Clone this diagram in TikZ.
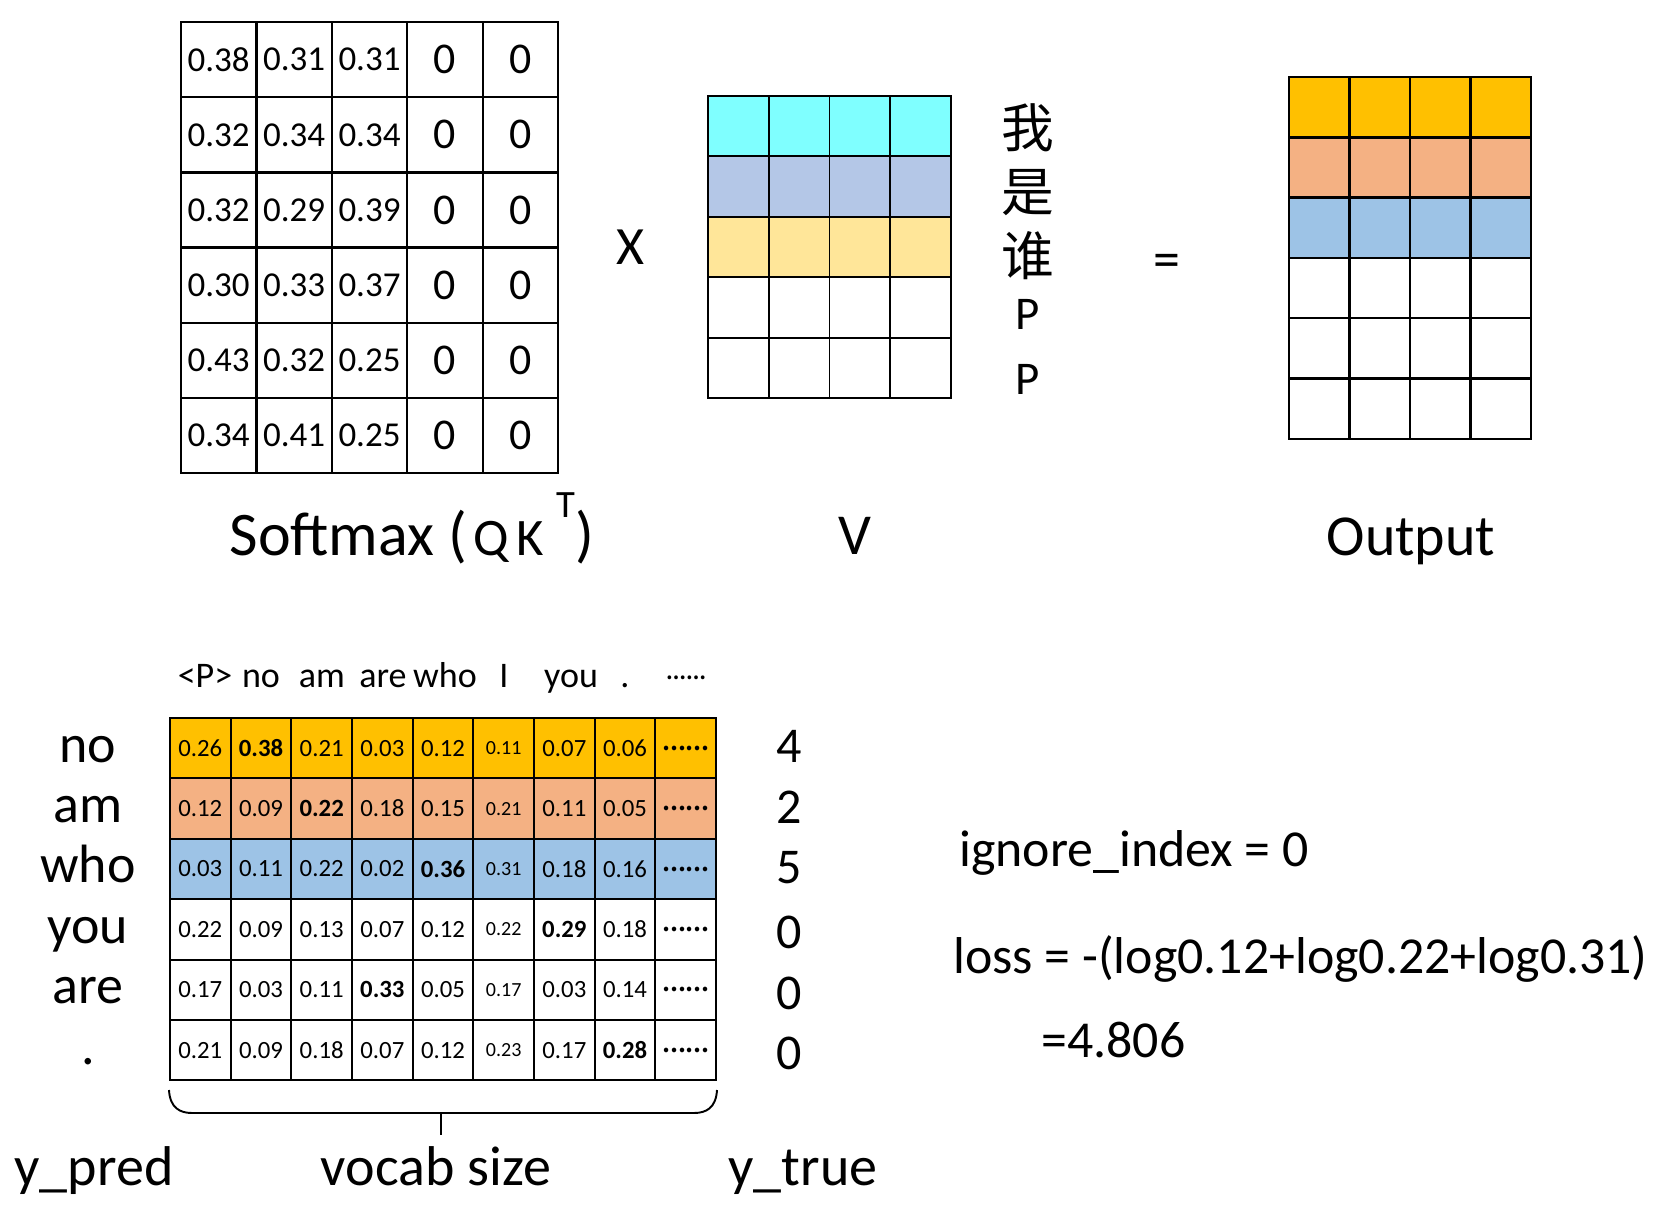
\documentclass[tikz,border=0pt]{standalone}
\usepackage{fontspec}
\setmainfont{Carlito}
\newfontfamily\cjk{Noto Sans CJK SC}
\usepackage{tikz}
\usetikzlibrary{positioning}
\definecolor{vcyan}{HTML}{7FFFFF}
\definecolor{vlav}{HTML}{B4C7E7}
\definecolor{vyellow}{HTML}{FFE699}
\definecolor{rowgold}{HTML}{FFC000}
\definecolor{rowpeach}{HTML}{F4B183}
\definecolor{rowblue}{HTML}{9DC3E6}
\newcommand{\fsz}[1]{\fontsize{#1}{#1}\selectfont}
\newcommand{\pick}[1]{\textbf{#1}}
\newcommand{\narrow}[1]{{\fsz{11.4}#1}}
\newcommand{\more}{{\cjk\bfseries\fsz{12}……}}

\begin{document}
\begin{tikzpicture}[x=0.02cm,y=-0.02cm,
  smcell/.style={draw,line width=1.25pt,minimum width=1.508cm,minimum height=1.504cm,inner sep=0pt,font=\fsz{19.9}},
  zero/.style={font=\fsz{25}},
  vcell/.style={draw,line width=1.1pt,minimum width=1.215cm,minimum height=1.208cm,inner sep=0pt},
  ocell/.style={draw,line width=1.4pt,minimum width=1.21cm,minimum height=1.206cm,inner sep=0pt},
  pcell/.style={draw,line width=1.2pt,minimum width=1.214cm,minimum height=1.208cm,inner sep=0pt,font=\fsz{14.1}},
  vrow1/.style={fill=vcyan},vrow2/.style={fill=vlav},vrow3/.style={fill=vyellow},
  vrow4/.style={fill=white},vrow5/.style={fill=white},
  prow1/.style={fill=rowgold},prow2/.style={fill=rowpeach},prow3/.style={fill=rowblue},
  prow4/.style={fill=white},prow5/.style={fill=white},prow6/.style={fill=white},
  big/.style={anchor=base,inner sep=0pt,font=\fsz{33}},
  word/.style={anchor=base,inner sep=0pt,font=\fsz{20.5}},
  rowlab/.style={anchor=base,inner sep=0pt,font=\fsz{30.7}},
  eq/.style={anchor=base west,inner sep=0pt,font=\fsz{29.5}}]
  \useasboundingbox (0,0) rectangle (1660,1219);

  % softmax(QK^T)
  \foreach \a/\b/\c [count=\r] in {0.38/0.31/0.31,0.32/0.34/0.34,0.32/0.29/0.39,0.30/0.33/0.37,0.43/0.32/0.25,0.34/0.41/0.25}{
    \foreach \v [count=\k] in {\a,\b,\c}
      \node[smcell] (sm-\r-\k) at ({181+75.4*(\k-0.5)},{22+75.2*(\r-0.5)}) {\v};
    \foreach \k in {4,5}
      \node[smcell,zero] (sm-\r-\k) at ({181+75.4*(\k-0.5)},{22+75.2*(\r-0.5)}) {0};
  }
  \node[big,font=\fsz{30.7}] (times) at (630,265) {X};

  % V
  \foreach \r in {1,...,5}
    \foreach \k in {1,...,4}
      \node[vcell,vrow\r] (v-\r-\k) at ({708+60.75*(\k-0.5)},{96+60.4*(\r-0.5)}) {};
  \foreach \w/\y [count=\i] in {我/128,是/193,谁/256}
    \node[inner sep=0pt,font=\cjk\fsz{30}] (zh-\i) at (1028,\y) {\w};
  \node[big,font=\fsz{26.7}] (pad-1) at (1028,330) {P};
  \node[big,font=\fsz{26.7}] (pad-2) at (1028,395) {P};
  \node[inner sep=0pt,font=\fsz{30.7}] (equals) at (1167,266) {=};

  % output
  \foreach \r in {1,...,6}
    \foreach \k in {1,...,4}
      \node[ocell,prow\r] (out-\r-\k) at ({1289+60.5*(\k-0.5)},{77+60.3*(\r-0.5)}) {};

  \node[big,font=\fsz{35.3}] (lab-sm) at (412,556) {Softmax (\hspace{0.1em}{\fsz{30}Q\hspace{0.15em}K}\hspace{0.2em}\raisebox{0.62em}{\fsz{22}T})};
  \node[big] (lab-v) at (855,555) {V};
  \node[big] (lab-out) at (1411,556) {Output};

  % prediction over the vocabulary
  \foreach \w/\x [count=\i] in {<P>/205,no/261,am/322,are/383,who/445,I/504,you/571,./625}
    \node[word] (tok-\i) at (\x,687) {\w};
  \node[inner sep=0pt,font=\cjk\bfseries\fsz{10}] (tok-9) at (686,678) {……};

  \foreach \vals [count=\r] in {
    {0.26,\pick{0.38},0.21,0.03,0.12,\narrow{0.11},0.07,0.06,\more},
    {0.12,0.09,\pick{0.22},0.18,0.15,\narrow{0.21},0.11,0.05,\more},
    {0.03,0.11,0.22,0.02,\pick{0.36},\narrow{0.31},0.18,0.16,\more},
    {0.22,0.09,0.13,0.07,0.12,\narrow{0.22},\pick{0.29},0.18,\more},
    {0.17,0.03,0.11,\pick{0.33},0.05,\narrow{0.17},0.03,0.14,\more},
    {0.21,0.09,0.18,0.07,0.12,\narrow{0.23},0.17,\pick{0.28},\more}}
    \foreach \v [count=\k] in \vals
      \node[pcell,prow\r] (p-\r-\k) at ({170+60.67*(\k-0.5)},{718+60.4*(\r-0.5)}) {\v};

  \foreach \w [count=\i] in {no,am,who,you,are,.}
    \node[rowlab] (pred-\i) at (88,{762+60.4*(\i-1)}) {\w};
  \foreach \d/\y [count=\i] in {4/762,2/823,5/883,0/948,0/1009,0/1069}
    \node[rowlab,font=\fsz{28.5}] (true-\i) at (789,\y) {\d};

  \draw[line width=1.1pt] (169,1090) .. controls (170,1108) and (180,1113) .. (192,1113)
    -- (694,1113) .. controls (706,1113) and (716,1108) .. (717,1090);
  \draw[line width=1.1pt] (441,1113) -- (441,1135);

  \node[rowlab,font=\fsz{31.9}] (ypred) at (94,1185) {y\_pred};
  \node[rowlab,font=\fsz{31.9}] (vocab) at (436,1185) {vocab size};
  \node[rowlab,font=\fsz{31.9}] (ytrue) at (803,1185) {y\_true};

  \node[eq] (ignore) at (959,866) {ignore\_index = 0};
  \node[eq] (loss) at (953,973) {loss = -(log0.12+log0.22+log0.31)};
  \node[eq] (value) at (1041,1057) {=4.806};
\end{tikzpicture}
\end{document}
